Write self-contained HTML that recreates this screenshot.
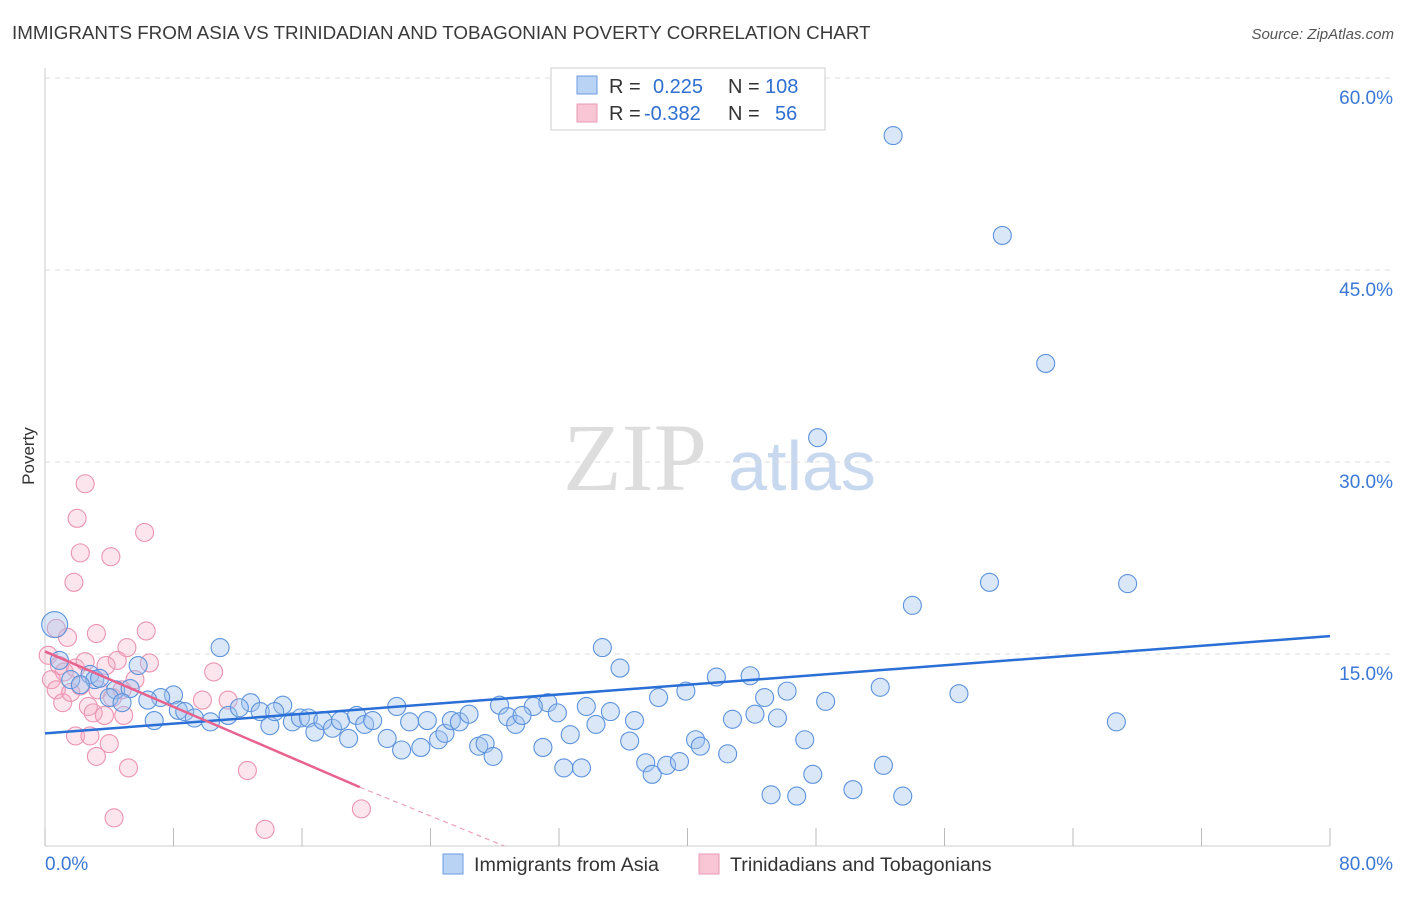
<!DOCTYPE html>
<html><head><meta charset="utf-8"><style>
body{margin:0;background:#fff;font-family:"Liberation Sans",sans-serif;}
</style></head><body>
<svg id="chart" width="1406" height="892" xmlns="http://www.w3.org/2000/svg">
<text x="12" y="39" font-size="18.8" fill="#3a3a3a">IMMIGRANTS FROM ASIA VS TRINIDADIAN AND TOBAGONIAN POVERTY CORRELATION CHART</text>
<text x="1394" y="39" font-size="15" fill="#555" font-style="italic" text-anchor="end">Source: ZipAtlas.com</text>
<text x="34" y="456" font-size="17" fill="#333" transform="rotate(-90 34 456)" text-anchor="middle">Poverty</text>
<g><text x="635" y="490" font-size="96" font-family="Liberation Serif,serif" fill="#ddd" text-anchor="middle">ZIP</text><text x="802" y="490" font-size="70" fill="#c8d8ee" text-anchor="middle">atlas</text></g>
<g id="grid"></g><g id="marks"></g><g id="lines"></g>
<g>
<rect x="551" y="68" width="274" height="62" fill="#fff" stroke="#ccc"/>
<rect x="577" y="76" width="20" height="18" fill="#b9d3f5" stroke="#6a9be0"/>
<rect x="577" y="104" width="20" height="18" fill="#f9c6d6" stroke="#e89ab3"/>
<text x="609" y="93" font-size="20" fill="#333">R = <tspan fill="#2f6fd0" x="653">0.225</tspan><tspan fill="#333" x="728">N = </tspan><tspan fill="#2f6fd0" x="765">108</tspan></text>
<text x="609" y="120" font-size="20" fill="#333">R = <tspan fill="#2f6fd0" x="644">-0.382</tspan><tspan fill="#333" x="728">N = </tspan><tspan fill="#2f6fd0" x="775">56</tspan></text>
</g>
<g>
<rect x="443" y="854" width="20" height="20" fill="#b9d3f5" stroke="#6a9be0"/>
<text x="474" y="871" font-size="19.7" fill="#333">Immigrants from Asia</text>
<rect x="699" y="854" width="20" height="20" fill="#f9c6d6" stroke="#e89ab3"/>
<text x="730" y="871" font-size="19.7" fill="#333">Trinidadians and Tobagonians</text>
</g>
</svg>
<script>
const yTicks=[15,30,45,60];
const yTickLabels=["15.0%","30.0%","45.0%","60.0%"];
const xTickLabels=["0.0%","80.0%"];
const asiaX=[52.8,59.6,62.3,48.1,58.8,67.4,54.0,34.7,35.8,10.9,43.9,41.8,52.0,39.9,46.2,56.9,44.8,38.2,48.6,66.7,33.7,28.3,31.3,30.4,21.9,14.8,12.8,8.0,7.2,5.8,0.6,0.9,2.8,3.1,4.4,5.3,4.0,4.8,6.4,6.8,8.3,8.7,9.3,10.3,11.4,12.1,13.4,14.0,14.3,15.4,15.9,16.4,16.8,17.3,17.9,18.4,18.9,19.4,19.9,20.4,21.3,22.2,22.7,23.4,23.8,24.5,24.9,25.3,25.8,26.4,27.0,27.4,27.9,28.8,29.3,29.7,31.0,31.9,32.3,32.7,33.4,34.3,35.2,36.4,36.7,37.4,37.8,38.7,39.5,40.5,40.8,42.5,42.8,44.2,45.6,45.2,46.8,47.3,47.8,50.3,52.2,53.4,1.6,2.2,3.4];
const asiaY=[55.5,47.7,37.7,31.9,20.6,20.5,18.8,15.5,13.9,15.5,13.3,13.2,12.4,12.1,12.1,11.9,11.6,11.6,11.3,9.7,10.9,11.0,11.2,10.9,10.9,11.0,11.2,11.8,11.6,14.1,17.3,14.5,13.4,13.0,12.2,12.3,11.6,11.2,11.4,9.8,10.6,10.5,10.0,9.7,10.2,10.8,10.5,9.4,10.5,9.7,10.0,10.0,8.9,9.8,9.2,9.8,8.4,10.2,9.5,9.8,8.4,7.5,9.7,7.7,9.8,8.3,8.8,9.8,9.7,10.3,7.8,8.0,7.0,10.1,9.5,10.2,7.7,10.4,6.1,8.7,6.1,9.5,10.5,8.2,9.8,6.5,5.6,6.3,6.6,8.3,7.8,7.2,9.9,10.3,10.0,4.0,3.9,8.3,5.6,4.4,6.3,3.9,13.0,12.6,13.1];
const ttX=[2.5,2.0,6.2,2.2,4.1,1.8,0.7,1.4,3.2,6.3,5.1,4.5,6.5,3.8,10.5,0.2,0.9,1.2,1.9,2.5,0.4,0.7,2.2,3.3,4.8,5.6,1.1,2.7,3.0,3.7,4.9,9.8,11.4,1.9,2.8,4.0,3.2,5.2,12.6,4.3,13.7,19.7,4.2,1.6];
const ttY=[28.3,25.6,24.5,22.9,22.6,20.6,17.0,16.3,16.6,16.8,15.5,14.5,14.3,14.1,13.6,14.9,14.1,13.6,13.9,14.4,13.0,12.2,12.5,12.2,12.2,13.0,11.2,10.9,10.4,10.2,10.2,11.4,11.4,8.6,8.6,8.0,7.0,6.1,5.9,2.2,1.3,2.9,11.6,12.0];
const asiaTrend=[8.8,16.4];
const ttTrend=[15.2,4.6,19.6,28.6];
const NS="http://www.w3.org/2000/svg";
const xs=v=>45+v/80*1285, ys=v=>846-v/15*192;
function mk(t,a,p){const e=document.createElementNS(NS,t);for(const k in a)e.setAttribute(k,a[k]);p.appendChild(e);return e;}
const grid=document.getElementById('grid'),marks=document.getElementById('marks'),lines=document.getElementById('lines');
yTicks.forEach((t,i)=>{
 const l=mk('line',{x1:45,x2:1394,y1:ys(t),y2:ys(t),stroke:'#ddd','stroke-dasharray':'5,5'},grid);
 
 
 const tx=mk('text',{x:1393,y:ys(t)+26,'font-size':19,fill:'#3a78d4','text-anchor':'end'},grid);tx.textContent=yTickLabels[i];
 
 
});
const ax=mk('line',{x1:45,x2:45,y1:68,y2:846,stroke:'#ccc'},grid);


const bx=mk('line',{x1:45,x2:1330,y1:846,y2:846,stroke:'#ccc'},grid);


for(let i=0;i<=10;i++){const t=mk('line',{x1:xs(i*8),x2:xs(i*8),y1:828,y2:846,stroke:'#bbb'},grid);
 
 }
[[0,'start',45],[80,'end',1393]].forEach((d,i)=>{const t=mk('text',{x:d[2],y:870,'font-size':19,fill:'#3a78d4','text-anchor':d[1]},grid);t.textContent=xTickLabels[i];
 
 });
ttX.forEach((x,i)=>{const c=mk('circle',{cx:xs(x),cy:ys(ttY[i]),r:9,fill:'rgba(246,170,195,0.3)',stroke:'#eb93b0','stroke-width':1.1},marks);
 
 });
asiaX.forEach((x,i)=>{const c=mk('circle',{cx:xs(x),cy:ys(asiaY[i]),r:(i==30?13:9),fill:'rgba(160,195,240,0.4)',stroke:'#5d93dc','stroke-width':1.1},marks);
 
 });
const bl=mk('line',{x1:xs(0),y1:ys(asiaTrend[0]),x2:xs(80),y2:ys(asiaTrend[1]),stroke:'#2a6fd6','stroke-width':2.5},lines);


const pl=mk('line',{x1:xs(0),y1:ys(ttTrend[0]),x2:xs(ttTrend[2]),y2:ys(ttTrend[1]),stroke:'#e8628e','stroke-width':2.5},lines);


const pd=mk('line',{x1:xs(ttTrend[2]),y1:ys(ttTrend[1]),x2:xs(ttTrend[3]),y2:ys(0),stroke:'#eda0b8','stroke-width':1.2,'stroke-dasharray':'5,4'},lines);


</script>
</body></html>
